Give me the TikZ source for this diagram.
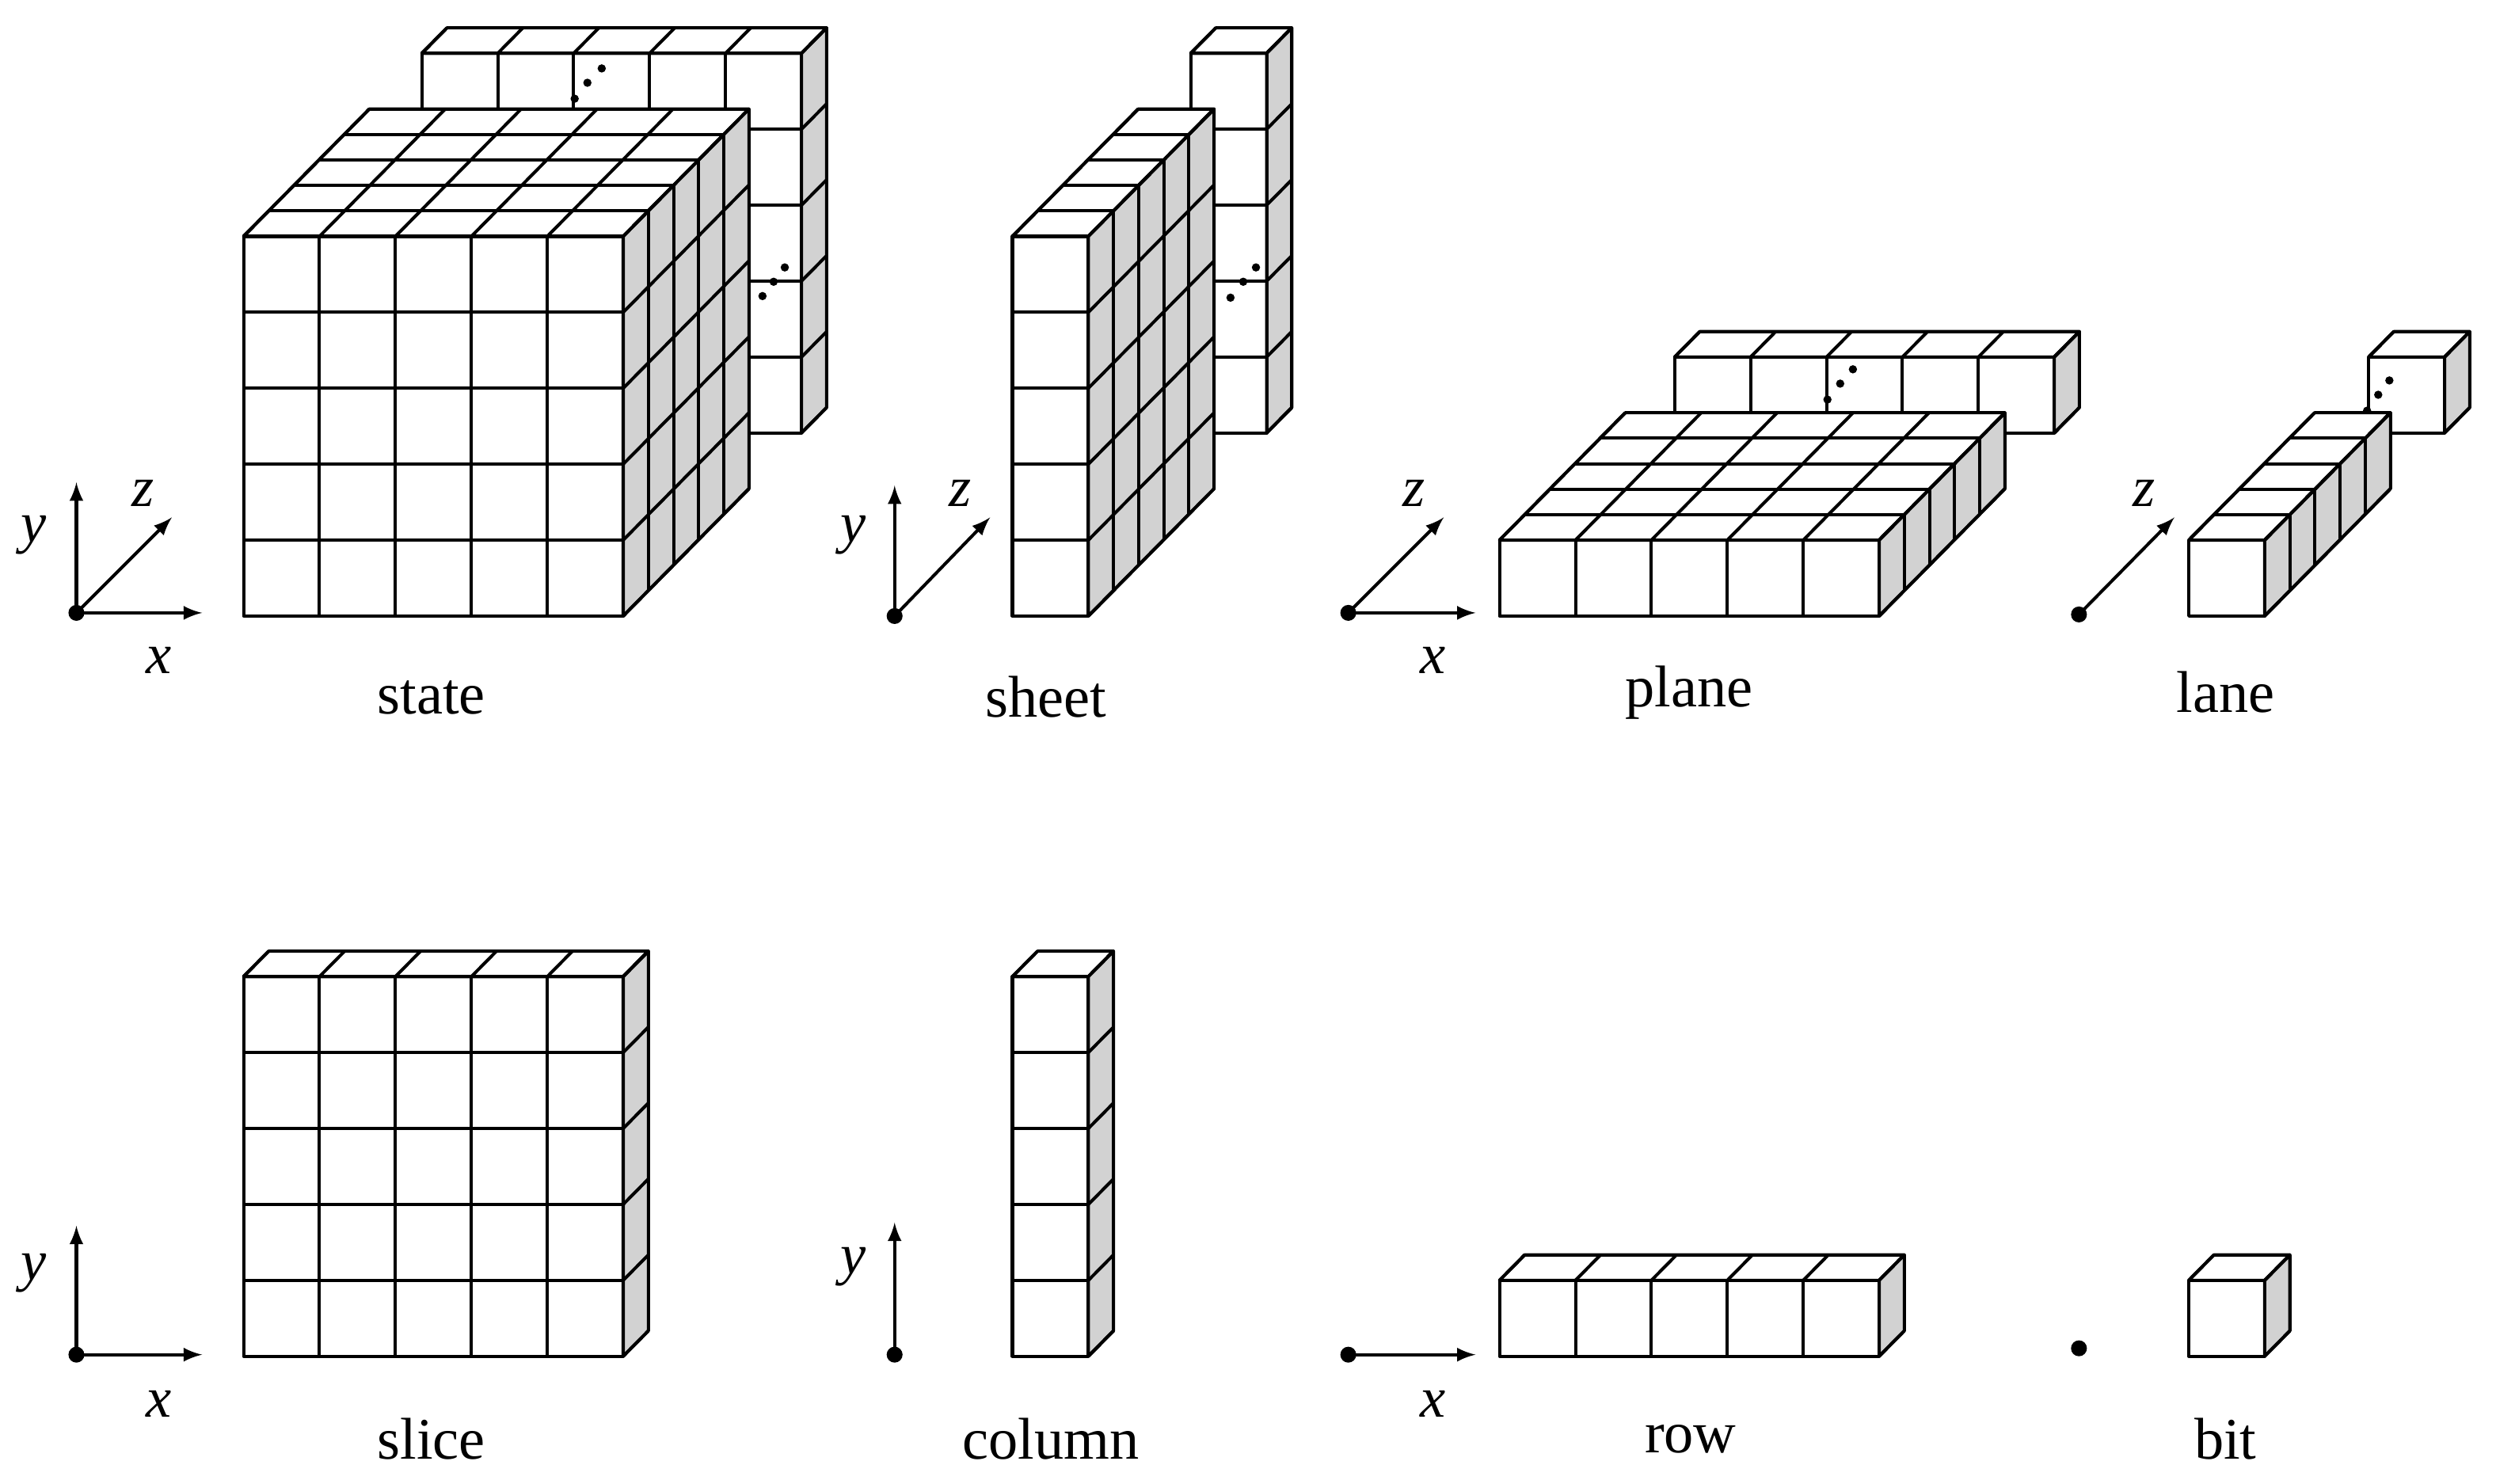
\documentclass[tikz,border=0pt]{standalone}
\usepackage{fontspec}
\setmainfont{Liberation Serif}
\begin{document}
\def\cw{47.7}\def\dx{15.8}\def\dy{16}
\newcommand\blk[5]{%
\begin{scope}[shift={(#1,932-#2)}]
\pgfmathsetmacro\W{#3*\cw}\pgfmathsetmacro\H{#4*\cw}\pgfmathsetmacro\DX{#5*\dx}\pgfmathsetmacro\DY{#5*\dy}
\filldraw[fill=white] (0,0) rectangle (\W,\H);
\foreach \i in {0,...,#3} \draw (\i*\cw,0) -- ++(0,\H);
\foreach \j in {0,...,#4} \draw (0,\j*\cw) -- ++(\W,0);
\filldraw[fill=white] (0,\H) -- ++(\W,0) -- ++(\DX,\DY) -- ++(-\W,0) -- cycle;
\foreach \i in {0,...,#3} \draw (\i*\cw,\H) -- ++(\DX,\DY);
\foreach \k in {0,...,#5} \draw (\k*\dx,\H+\k*\dy) -- ++(\W,0);
\filldraw[fill=gray!35] (\W,0) -- ++(0,\H) -- ++(\DX,\DY) -- ++(0,-\H) -- cycle;
\foreach \j in {0,...,#4} \draw (\W,\j*\cw) -- ++(\DX,\DY);
\foreach \k in {0,...,#5} \draw (\W+\k*\dx,\k*\dy) -- ++(0,\H);
\end{scope}}
\newcommand\dts[6]{\fill (#1,932-#2) circle (2.6) (#3,932-#4) circle (2.6) (#5,932-#6) circle (2.6);}
\begin{tikzpicture}[x=0.5pt,y=0.5pt,line width=1pt,line join=round,
  lab/.style={font=\fontsize{18.5}{22}\selectfont},
  ax/.style={font=\fontsize{18}{22}\selectfont\itshape},
  arr/.style={-latex},
  org/.style={circle,fill,inner sep=0pt,minimum size=5pt}]
\useasboundingbox (0,0) rectangle (1568,932);
% top row
\blk{265}{272}{5}{5}{1}
\dts{361}{62}{369}{52}{378}{43}\dts{479}{186}{486}{177}{493}{168}
\blk{153}{387}{5}{5}{5}
\blk{748}{272}{1}{5}{1}
\dts{773}{187}{781}{177}{789}{168}
\blk{636}{387}{1}{5}{5}
\blk{1052}{272}{5}{1}{1}
\dts{1148}{251}{1156}{241}{1164}{232}
\blk{942}{387}{5}{1}{5}
\blk{1488}{272}{1}{1}{1}
\dts{1487}{258}{1494}{248}{1501}{239}
\blk{1375}{387}{1}{1}{5}
% bottom row
\blk{153}{852}{5}{5}{1}
\blk{636}{852}{1}{5}{1}
\blk{942}{852}{5}{1}{1}
\blk{1375}{852}{1}{1}{1}
% axes
\node[org] (o1) at (48,932-385) {};
\coordinate (x1) at (127,932-385);\coordinate (y1) at (48,932-303);\coordinate (z1) at (108,932-325);
\draw[arr] (o1.center)--(x1);\draw[arr] (o1.center)--(y1);\draw[arr] (o1.center)--(z1);
\node[ax] (ly1) at (21,932-336) {y};\node[ax] (lz1) at (90,932-310) {z};\node[ax] (lx1) at (100,932-415) {x};
\node[org] (o2) at (562,932-387) {};
\coordinate (y2) at (562,932-305);\coordinate (z2) at (622,932-325);
\draw[arr] (o2.center)--(y2);\draw[arr] (o2.center)--(z2);
\node[ax] (ly2) at (536,932-336) {y};\node[ax] (lz2) at (603,932-310) {z};
\node[org] (o3) at (847,932-385) {};
\coordinate (x3) at (927,932-385);\coordinate (z3) at (907,932-325);
\draw[arr] (o3.center)--(x3);\draw[arr] (o3.center)--(z3);
\node[ax] (lz3) at (888,932-310) {z};\node[ax] (lx3) at (900,932-415) {x};
\node[org] (o4) at (1306,932-386) {};
\coordinate (z4) at (1366,932-325);
\draw[arr] (o4.center)--(z4);
\node[ax] (lz4) at (1347,932-310) {z};
\node[org] (o5) at (48,932-851) {};
\coordinate (x5) at (127,932-851);\coordinate (y5) at (48,932-770);
\draw[arr] (o5.center)--(x5);\draw[arr] (o5.center)--(y5);
\node[ax] (ly5) at (21,932-800) {y};\node[ax] (lx5) at (100,932-882) {x};
\node[org] (o6) at (562,932-851) {};
\coordinate (y6) at (562,932-768);
\draw[arr] (o6.center)--(y6);
\node[ax] (ly6) at (536,932-796) {y};
\node[org] (o7) at (847,932-851) {};
\coordinate (x7) at (927,932-851);
\draw[arr] (o7.center)--(x7);
\node[ax] (lx7) at (900,932-882) {x};
\node[org] (o8) at (1306,932-847) {};
% labels
\node[lab] (l1) at (271,932-438) {state};
\node[lab] (l2) at (657,932-438) {sheet};
\node[lab] (l3) at (1061,932-435) {plane};
\node[lab] (l4) at (1398,932-435) {lane};
\node[lab] (l5) at (271,932-904) {slice};
\node[lab] (l6) at (660,932-904) {column};
\node[lab] (l7) at (1062,932-904) {row};
\node[lab] (l8) at (1398,932-904) {bit};
\end{tikzpicture}
\end{document}
